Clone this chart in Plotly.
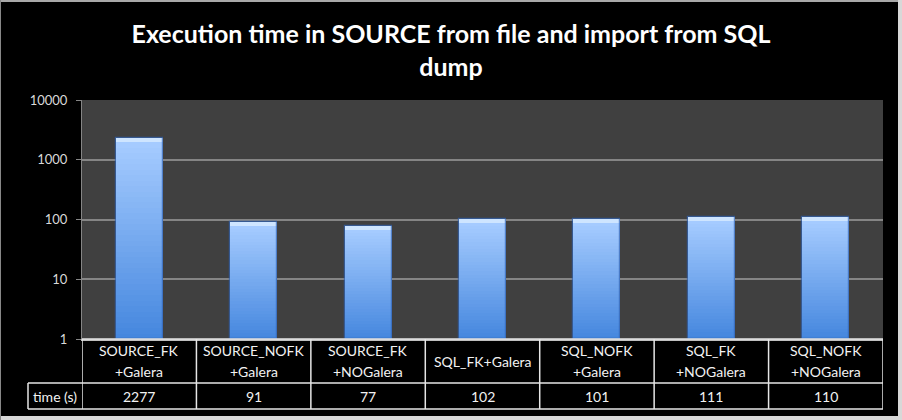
import math
import plotly.graph_objects as go

# ---- data ----
categories = ["SOURCE_FK+Galera", "SOURCE_NOFK+Galera", "SOURCE_FK+NOGalera",
              "SQL_FK+Galera", "SQL_NOFK+Galera", "SQL_FK+NOGalera", "SQL_NOFK+NOGalera"]
label_lines = [["SOURCE_FK", "+Galera"], ["SOURCE_NOFK", "+Galera"], ["SOURCE_FK", "+NOGalera"],
               ["SQL_FK+Galera"], ["SQL_NOFK", "+Galera"], ["SQL_FK", "+NOGalera"], ["SQL_NOFK", "+NOGalera"]]
times = [2277, 91, 77, 102, 101, 111, 110]
row_label = "time (s)"
y_ticks = [1, 10, 100, 1000, 10000]
title = "Execution time in SOURCE from file and import from SQL<br>dump"

# ---- geometry ----
W, H = 902, 420
ML, MR, MT, MB = 82, 19, 100, 81
PW, PH = W - ML - MR, H - MT - MB

def px_x(px):
    return (px - ML) / PW

def px_y(py):
    return (H - MB - py) / PH

FONT = "Lato"
fig = go.Figure()

# gradient bars made of stacked segments (log space)
N = 36
c_bot = (68, 134, 222)
c_top = (166, 204, 255)
cap_dec = 4.0 / (PH / 4)  # ~4px in decades
for k in range(N):
    t0, t1 = k / N, (k + 1) / N
    bases, sizes = [], []
    for v in times:
        lv = math.log10(v) - cap_dec
        a = 10 ** (lv * t0)
        b = 10 ** (lv * t1)
        bases.append(a)
        sizes.append(b - a)
    tm = (t0 + t1) / 2
    col = tuple(int(round(c_bot[i] + (c_top[i] - c_bot[i]) * tm)) for i in range(3))
    fig.add_trace(go.Bar(x=categories, y=sizes, base=bases, width=0.41,
                         marker=dict(color="rgb(%d,%d,%d)" % col, line=dict(width=0)),
                         hoverinfo="skip", showlegend=False))
# top cap highlight
cap_b = [10 ** (math.log10(v) - cap_dec) for v in times]
fig.add_trace(go.Bar(x=categories, y=[v - b for v, b in zip(times, cap_b)], base=cap_b, width=0.41,
                     marker=dict(color="rgb(206,229,255)", line=dict(width=0)),
                     hoverinfo="skip", showlegend=False))
# outline
fig.add_trace(go.Bar(x=categories, y=[v - 1 for v in times], base=[1] * len(times), width=0.41,
                     marker=dict(color="rgba(0,0,0,0)", line=dict(width=1.2, color="rgba(50,100,180,0.7)")),
                     hoverinfo="skip", showlegend=False))

shapes = []
LC = "#e6e6e6"
y_top, y_mid, y_bot = 0, px_y(383), px_y(409)
x_left = px_x(28)
# horizontal table lines
shapes.append(dict(type="line", xref="x", yref="paper", x0=-0.5, x1=len(categories) - 0.5,
                   y0=y_top, y1=y_top, line=dict(color=LC, width=1.5)))
for yy in (y_mid, y_bot):
    shapes.append(dict(type="line", xref="paper", yref="paper", x0=x_left, x1=1,
                       y0=yy, y1=yy, line=dict(color=LC, width=1.5)))
# vertical lines
for i in range(len(categories) + 1):
    shapes.append(dict(type="line", xref="x", yref="paper", x0=i - 0.5, x1=i - 0.5,
                       y0=y_top, y1=y_bot, line=dict(color=LC, width=1.5)))
shapes.append(dict(type="line", xref="paper", yref="paper", x0=x_left, x1=x_left,
                   y0=y_mid, y1=y_bot, line=dict(color=LC, width=1.5)))
# outer light border
BC = "#d8d8d8"
for (x0, y0, x1, y1, c) in [(0, 0, W, 2, "#a8a8a8"), (0, 416, W, H, BC), (898, 0, W, H, BC), (0, 0, 1, H, "#888888")]:
    shapes.append(dict(type="rect", xref="paper", yref="paper", x0=px_x(x0), x1=px_x(x1),
                       y0=px_y(y1), y1=px_y(y0), fillcolor=c, line=dict(width=0), layer="above"))

annotations = []
TF = dict(family=FONT, size=14, color="#f2f2f2")
row1_mid = px_y(361)
row2_mid = px_y(396)
for i, lines in enumerate(label_lines):
    n = len(lines)
    for j, ln in enumerate(lines):
        shift = (-(j - (n - 1) / 2)) * 21
        annotations.append(dict(x=categories[i], xref="x", y=row1_mid, yref="paper", yshift=shift,
                                text=ln, showarrow=False, font=TF, xanchor="center", yanchor="middle"))
    annotations.append(dict(x=categories[i], xref="x", y=row2_mid, yref="paper",
                            text=str(times[i]), showarrow=False, font=TF, xanchor="center", yanchor="middle"))
annotations.append(dict(x=px_x(55), xref="paper", y=row2_mid, yref="paper", text=row_label,
                        showarrow=False, font=TF, xanchor="center", yanchor="middle"))

fig.update_layout(
    width=W, height=H,
    margin=dict(l=ML, r=MR, t=MT, b=MB, pad=0),
    paper_bgcolor="black", plot_bgcolor="#404040",
    barmode="overlay", bargap=0,
    title=dict(text="<b>" + title + "</b>", x=0.5, xanchor="center", y=1 - 43 / H, yanchor="middle",
               font=dict(family=FONT, size=25, color="white")),
    xaxis=dict(showticklabels=False, showgrid=False, zeroline=False, ticks="",
               range=[-0.5, len(categories) - 0.5], showline=True, linecolor="#bfbfbf", linewidth=2),
    yaxis=dict(type="log", range=[0, 4], tickvals=y_ticks, ticktext=[str(v) for v in y_ticks],
               showgrid=True, gridcolor="#858585", gridwidth=1.5, zeroline=False,
               showline=True, linecolor="#858585", linewidth=1,
               ticks="outside", ticklen=5, tickcolor="#858585", ticklabelstandoff=6,
               tickfont=dict(family=FONT, size=13, color="#d9d9d9")),
    shapes=shapes, annotations=annotations,
)

fig.write_html("out.html", config={"displayModeBar": False},
               post_script="document.body.style.margin='0';document.body.style.padding='0';")
